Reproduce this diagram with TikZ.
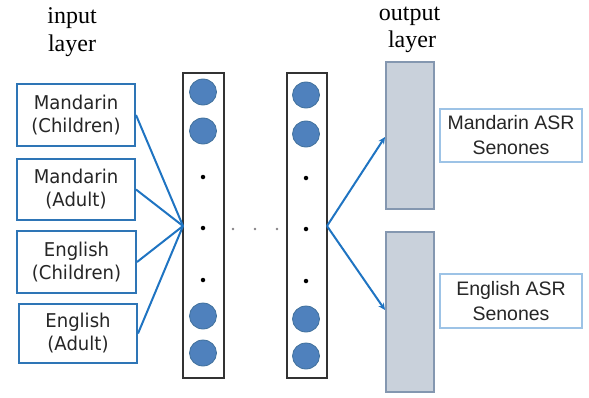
\documentclass[tikz,border=0pt]{standalone}
\usepackage{fontspec}
\newfontfamily\titlefont{Liberation Serif}
\newfontfamily\inboxfont[FakeStretch=0.95]{DejaVu Sans}
\newfontfamily\outboxfont{Liberation Sans}
\usetikzlibrary{arrows.meta,shapes.geometric}
\definecolor{inblue}{HTML}{2E75B6}
\definecolor{wireblue}{HTML}{1F74C2}
\definecolor{unitfill}{HTML}{4F81BD}
\definecolor{unitline}{HTML}{41719C}
\definecolor{outfill}{HTML}{C9D1DB}
\definecolor{outline}{HTML}{8497B0}
\definecolor{labline}{HTML}{9DC3E6}
\tikzset{
  inbox/.style={draw=inblue, line width=2pt, fill=white, inner sep=0pt,
    align=center, font={\inboxfont\fontsize{19}{23}\selectfont}, text=black!85},
  layerbox/.style={draw=black!80, line width=2.2pt, inner sep=0pt},
  unit/.style={ellipse, draw=unitline, line width=0.8pt, fill=unitfill,
    minimum width=27pt, minimum height=26pt, inner sep=0pt},
  smalldot/.style={circle, fill=black, minimum size=4.5pt, inner sep=0pt},
  outbar/.style={draw=outline, line width=2pt, fill=outfill, inner sep=0pt},
  labbox/.style={draw=labline, line width=1.5pt, fill=white, inner sep=0pt,
    align=center, font={\outboxfont\fontsize{19.5}{25}\selectfont}, text=black!85},
  title/.style={font={\titlefont\fontsize{24}{28}\selectfont}, inner sep=0pt, anchor=base},
  wire/.style={draw=wireblue, line width=2pt},
  tipwire/.style={wire, -{Stealth[length=7pt,width=6.5pt]}},
}
\begin{document}
\begin{tikzpicture}[x=1pt, y=-1pt]
  \useasboundingbox (0,0) rectangle (589,397);

  % titles
  \node[title] (intitle1) at (72,23) {input};
  \node[title] (intitle2) at (72,51) {layer};
  \node[title] (outtitle1) at (409.5,20) {output};
  \node[title] (outtitle2) at (412,47) {layer};

  % input boxes
  \node[inbox, minimum width=118pt, minimum height=62pt] (in1) at (76,115) {Mandarin\\(Children)};
  \node[inbox, minimum width=118pt, minimum height=61pt] (in2) at (76,189.5) {Mandarin\\(Adult)};
  \node[inbox, minimum width=119pt, minimum height=62pt] (in3) at (76.5,262) {English\\(Children)};
  \node[inbox, minimum width=118pt, minimum height=59pt] (in4) at (78,333.5) {English\\(Adult)};

  % hidden layers
  \node[layerbox, minimum width=41pt, minimum height=305pt] (h1) at (203.5,225.5) {};
  \node[layerbox, minimum width=40pt, minimum height=305pt] (h2) at (307,225.5) {};

  \coordinate (hubin) at (183,226);
  \coordinate (hubout) at (327,226);

  % units of the first hidden layer
  \node[unit] (a1) at (203,92) {};
  \node[unit] (a2) at (203,131) {};
  \node[smalldot] (a3) at (203,177) {};
  \node[smalldot] (a4) at (203,228) {};
  \node[smalldot] (a5) at (203,280) {};
  \node[unit] (a6) at (203,316) {};
  \node[unit] (a7) at (203,353) {};

  % units of the last hidden layer
  \node[unit] (b1) at (306,95) {};
  \node[unit] (b2) at (306,134) {};
  \node[smalldot] (b3) at (306,178) {};
  \node[smalldot] (b4) at (306,229) {};
  \node[smalldot] (b5) at (306,281) {};
  \node[unit] (b6) at (306,319) {};
  \node[unit] (b7) at (306,356) {};

  % ellipsis between the layers
  \foreach \x/\n in {233/e1,255/e2,277/e3}
    \node[circle, fill=unitfill!70!orange, minimum size=2.6pt, inner sep=0pt] (\n) at (\x,229) {};

  % output bars
  \node[outbar, minimum width=48pt, minimum height=147pt] (o1) at (410,135.5) {};
  \node[outbar, minimum width=48pt, minimum height=160pt] (o2) at (410,312) {};

  % output labels
  \node[labbox, minimum width=142pt, minimum height=53pt] (l1) at (511,135.5) {Mandarin ASR\\Senones};
  \node[labbox, minimum width=142pt, minimum height=54pt] (l2) at (511,301) {English ASR\\Senones};

  % connectors
  \foreach \s in {in1,in2,in3,in4}
    \draw[wire] (\s.east) -- (hubin);
  \draw[tipwire] (hubout) -- (o1.west |- 0,137);
  \draw[tipwire] (hubout) -- (o2.west |- 0,310);
\end{tikzpicture}
\end{document}
